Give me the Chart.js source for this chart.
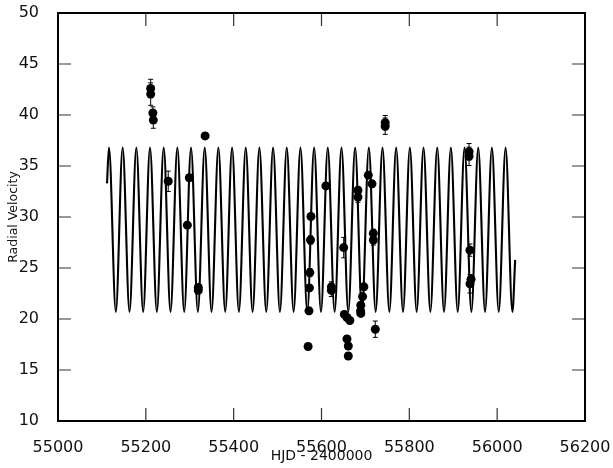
<!DOCTYPE html>
<html>
<head>
<meta charset="utf-8">
<script src="https://cdn.jsdelivr.net/npm/chart.js@4/dist/chart.umd.min.js"></script>
<style>
  html, body { margin: 0; padding: 0; background: #fff; }
</style>
</head>
<body>
<canvas id="chart" width="613" height="468"></canvas>
<script>
// Observed radial velocities (HJD - 2400000, km/s, error)
const obsDays = [
  55211, 55211, 55216, 55217, 55251, 55294.5, 55299, 55319.5, 55319.5, 55335,
  55569.5, 55571.5, 55572.5, 55573.5, 55575, 55576, 55610, 55622.5, 55622.5,
  55650.5, 55652, 55658, 55664.5, 55658, 55661, 55661,
  55683, 55683, 55689, 55689.5, 55693.5, 55696.5, 55689.5,
  55706.5, 55715, 55718, 55718, 55722.5, 55745, 55745,
  55936, 55936, 55938, 55940.5, 55938
];
const obsRV = [
  42.6, 42.05, 40.2, 39.5, 33.5, 29.2, 33.85, 23.1, 22.8, 37.95,
  17.3, 20.8, 23.05, 24.55, 27.75, 30.05, 33.05, 23.15, 22.8,
  27.0, 20.45, 20.15, 19.85, 18.05, 17.35, 16.37,
  32.6, 31.95, 20.8, 21.35, 22.2, 23.15, 20.55,
  34.1, 33.25, 28.4, 27.75, 19.0, 39.25, 38.9,
  36.4, 35.95, 26.75, 23.9, 23.45
];
const obsErr = [
  0.9, 1.1, 0.6, 0.8, 1.0, 0.3, 0.3, 0.3, 0.3, 0.3,
  0.3, 0.3, 0.3, 0.4, 0.4, 0.3, 0.3, 0.5, 0.6,
  1.0, 0.3, 0.3, 0.3, 0.3, 0.3, 0.3,
  0.4, 0.5, 0.3, 0.3, 0.3, 0.3, 0.3,
  0.3, 0.3, 0.4, 0.5, 0.8, 0.7, 0.8,
  0.8, 0.9, 0.6, 0.4, 0.9
];

// Orbit model curve: start, alternating maxima / minima, end
const curveDays = [
  55111.6,
  55116.1, 55131.7, 55147.2, 55162.8, 55178.4, 55193.9, 55209.5, 55225.1,
  55240.7, 55256.2, 55271.8, 55287.4, 55302.9, 55318.5, 55334.1, 55349.6,
  55365.2, 55380.8, 55396.4, 55411.9, 55427.5, 55443.1, 55458.6, 55474.2,
  55489.8, 55505.3, 55520.9, 55536.5, 55552.1, 55567.6, 55583.2, 55598.8,
  55614.3, 55629.9, 55645.5, 55661.0, 55676.6, 55692.2, 55707.8, 55723.3,
  55738.9, 55754.5, 55770.0, 55785.6, 55801.2, 55816.7, 55832.3, 55847.9,
  55863.5, 55879.0, 55894.6, 55910.2, 55925.7, 55941.3, 55956.9, 55972.4,
  55988.0, 56003.6, 56019.2, 56034.7,
  56041.0
];
const curveRV = [
  33.3,
  36.8, 20.7, 36.8, 20.7, 36.8, 20.7, 36.8, 20.7,
  36.8, 20.7, 36.8, 20.7, 36.8, 20.7, 36.8, 20.7,
  36.8, 20.7, 36.8, 20.7, 36.8, 20.7, 36.8, 20.7,
  36.8, 20.7, 36.8, 20.7, 36.8, 20.7, 36.8, 20.7,
  36.8, 20.7, 36.8, 20.7, 36.8, 20.7, 36.8, 20.7,
  36.8, 20.7, 36.8, 20.7, 36.8, 20.7, 36.8, 20.7,
  36.8, 20.7, 36.8, 20.7, 36.8, 20.7, 36.8, 20.7,
  36.8, 20.7, 36.8, 20.7,
  25.8
];

// tick labels
const xTicks = [55000, 55200, 55400, 55600, 55800, 56000, 56200];
const yTicks = [10, 15, 20, 25, 30, 35, 40, 45, 50];

const font = 'DejaVu Sans';

const xMin = xTicks[0], xMax = xTicks[xTicks.length - 1];
const yMin = yTicks[0], yMax = yTicks[yTicks.length - 1];
// inward tick length in axis units (about 13 px)
const tickLenX = 29.6, tickLenY = 1.27;

// inward tick marks on all four sides, as broken line segments
const tickMarks = [];
xTicks.slice(1, -1).forEach(v => {
  tickMarks.push({ x: v, y: yMin }, { x: v, y: yMin + tickLenY }, { x: v, y: null });
  tickMarks.push({ x: v, y: yMax }, { x: v, y: yMax - tickLenY }, { x: v, y: null });
});
yTicks.slice(1, -1).forEach(v => {
  tickMarks.push({ x: xMin, y: v }, { x: xMin + tickLenX, y: v }, { x: xMin + tickLenX, y: null });
  tickMarks.push({ x: xMax, y: v }, { x: xMax - tickLenX, y: v }, { x: xMax - tickLenX, y: null });
});

// error bars and box frame, placed through the chart scales
const decorations = {
  id: 'decorations',
  afterDatasetsDraw(chart) {
    const { ctx, chartArea, scales } = chart;
    const x = scales.x, y = scales.y;
    const L = chartArea.left, R = chartArea.right, T = chartArea.top, B = chartArea.bottom;
    ctx.save();
    ctx.strokeStyle = '#000';
    ctx.lineWidth = 1;
    ctx.beginPath();
    obsDays.forEach((d, i) => {
      const px = x.getPixelForValue(d);
      const top = y.getPixelForValue(obsRV[i] + obsErr[i]);
      const bot = y.getPixelForValue(obsRV[i] - obsErr[i]);
      ctx.moveTo(px, top); ctx.lineTo(px, bot);
      ctx.moveTo(px - 2.5, top); ctx.lineTo(px + 2.5, top);
      ctx.moveTo(px - 2.5, bot); ctx.lineTo(px + 2.5, bot);
    });
    ctx.stroke();

    ctx.lineWidth = 2;
    ctx.strokeRect(L, T, R - L, B - T);
    ctx.restore();
  }
};

const canvas = document.getElementById('chart');

const graph = new Chart(canvas, {
  type: 'scatter',
  data: {
    datasets: [
      {
        label: 'observed',
        data: obsDays.map((d, i) => ({ x: d, y: obsRV[i] })),
        pointRadius: 4.5,
        pointHoverRadius: 4.5,
        backgroundColor: '#000',
        borderWidth: 0
      },
      {
        label: 'orbit',
        data: curveDays.map((d, i) => ({ x: d, y: curveRV[i] })),
        showLine: true,
        cubicInterpolationMode: 'monotone',
        borderColor: '#000',
        borderWidth: 2.1,
        pointRadius: 0,
        fill: false
      },
      {
        label: 'ticks',
        data: tickMarks,
        showLine: true,
        spanGaps: false,
        borderColor: '#333',
        borderWidth: 1.2,
        pointRadius: 0,
        fill: false
      }
    ]
  },
  options: {
    responsive: false,
    animation: false,
    events: [],
    layout: { padding: { top: 13, right: 28, left: 0, bottom: 0 } },
    plugins: { legend: { display: false }, tooltip: { enabled: false } },
    scales: {
      x: {
        type: 'linear',
        min: xMin, max: xMax,
        grid: { display: false },
        border: { display: false },
        afterBuildTicks(s) { s.ticks = xTicks.map(v => ({ value: v })); },
        ticks: {
          padding: 9,
          color: '#111',
          font: { family: font, size: 16 },
          callback: (v) => String(v)
        },
        title: {
          display: true,
          text: 'HJD - 2400000',
          color: '#111',
          font: { family: font, size: 14 },
          padding: { top: 0, bottom: 3 }
        },
        afterFit(s) { s.height = 47; s.paddingLeft = 0; s.paddingRight = 0; }
      },
      y: {
        min: yMin, max: yMax,
        grid: { display: false },
        border: { display: false },
        afterBuildTicks(s) { s.ticks = yTicks.map(v => ({ value: v })); },
        ticks: {
          padding: 11,
          color: '#111',
          font: { family: font, size: 16 },
          callback: (v) => String(v)
        },
        title: {
          display: true,
          text: 'Radial Velocity',
          color: '#111',
          font: { family: font, size: 12.5 },
          padding: { top: 6, bottom: 0 }
        },
        afterFit(s) { s.width = 58; s.paddingTop = 0; s.paddingBottom = 0; }
      }
    }
  },
  plugins: [decorations]
});
</script>
</body>
</html>
